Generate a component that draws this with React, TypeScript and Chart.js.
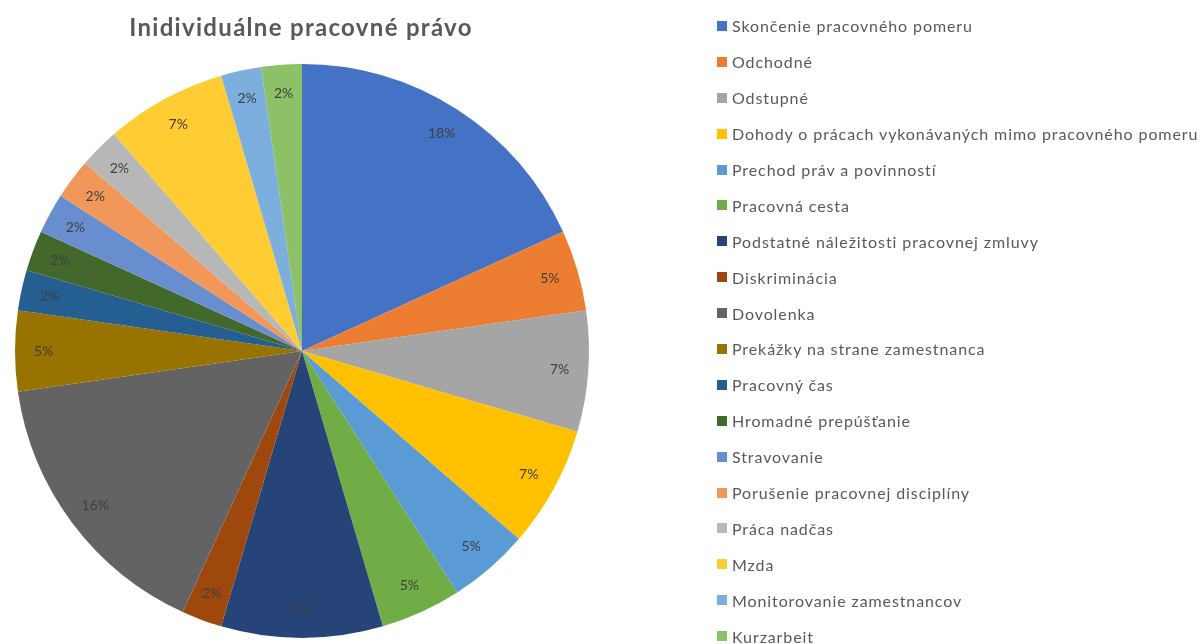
import React, { useEffect, useRef } from "react";
import { Chart, registerables } from "chart.js";

Chart.register(...registerables);

const TITLE = "Inidividuálne pracovné právo";

const categories = [
  "Skončenie pracovného pomeru",
  "Odchodné",
  "Odstupné",
  "Dohody o prácach vykonávaných mimo pracovného pomeru",
  "Prechod práv a povinností",
  "Pracovná cesta",
  "Podstatné náležitosti pracovnej zmluvy",
  "Diskriminácia",
  "Dovolenka",
  "Prekážky na strane zamestnanca",
  "Pracovný čas",
  "Hromadné prepúšťanie",
  "Stravovanie",
  "Porušenie pracovnej disciplíny",
  "Práca nadčas",
  "Mzda",
  "Monitorovanie zamestnancov",
  "Kurzarbeit",
];

const counts = [8, 2, 3, 3, 2, 2, 4, 1, 7, 2, 1, 1, 1, 1, 1, 3, 1, 1];

const colors = [
  "#4472C4",
  "#ED7D31",
  "#A5A5A5",
  "#FFC000",
  "#5B9BD5",
  "#70AD47",
  "#264478",
  "#9E480E",
  "#636363",
  "#997300",
  "#255E91",
  "#43682B",
  "#698ED0",
  "#F1975A",
  "#B7B7B7",
  "#FFCD33",
  "#7CAFDD",
  "#8CC168",
];

const labelPlugin = {
  id: "pctLabels",
  afterDatasetsDraw(chart: any) {
    const ctx = chart.ctx;
    const meta = chart.getDatasetMeta(0);
    const data = chart.data.datasets[0].data as number[];
    const total = data.reduce((a, b) => a + b, 0);
    ctx.save();
    ctx.font = "14px Lato";
    ctx.fillStyle = "#404040";
    ctx.textAlign = "center";
    ctx.textBaseline = "middle";
    meta.data.forEach((arc: any, i: number) => {
      const p = arc.getProps(["x", "y", "startAngle", "endAngle", "outerRadius"], true);
      const mid = (p.startAngle + p.endAngle) / 2;
      const r = p.outerRadius * 0.9;
      const x = p.x + Math.cos(mid) * r;
      const y = p.y + Math.sin(mid) * r;
      ctx.fillText(Math.round((data[i] / total) * 100) + "%", x, y);
    });
    ctx.restore();
  },
};

export default function App() {
  const ref = useRef<HTMLCanvasElement>(null);
  useEffect(() => {
    const chart = new Chart(ref.current!, {
      type: "pie",
      data: {
        labels: categories,
        datasets: [
          {
            data: counts,
            backgroundColor: colors,
            borderWidth: 0,
          },
        ],
      },
      options: {
        animation: false,
        responsive: false,
        maintainAspectRatio: false,
        layout: { padding: { left: 15, right: 614, top: 64, bottom: 6 } },
        plugins: {
          legend: { display: false },
          title: { display: false },
          tooltip: { enabled: false },
        },
      },
      plugins: [labelPlugin],
    });
    return () => chart.destroy();
  }, []);

  return (
    <div
      style={{
        position: "fixed",
        left: 0,
        top: 0,
        width: 1203,
        height: 644,
        background: "#fff",
        overflow: "hidden",
      }}
    >
      <canvas ref={ref} width={1203} height={644} style={{ position: "absolute", left: 0, top: 0 }} />
      <div
        style={{
          position: "absolute",
          left: 51,
          width: 500,
          top: 12,
          textAlign: "center",
          fontFamily: "Lato",
          fontWeight: 700,
          fontSize: 24,
          letterSpacing: "1.3px",
          lineHeight: "30px",
          color: "#595959",
        }}
      >
        {TITLE}
      </div>
      <div style={{ position: "absolute", left: 717, top: 8 }}>
        {categories.map((c, i) => (
          <div
            key={c}
            style={{
              display: "flex",
              alignItems: "center",
              height: 35.9,
              fontFamily: "Lato",
              fontSize: 16,
              letterSpacing: "0.9px",
              color: "#595959",
              whiteSpace: "nowrap",
            }}
          >
            <span
              style={{
                display: "inline-block",
                width: 10,
                height: 10,
                background: colors[i],
                marginRight: 5,
              }}
            />
            {c}
          </div>
        ))}
      </div>
    </div>
  );
}
